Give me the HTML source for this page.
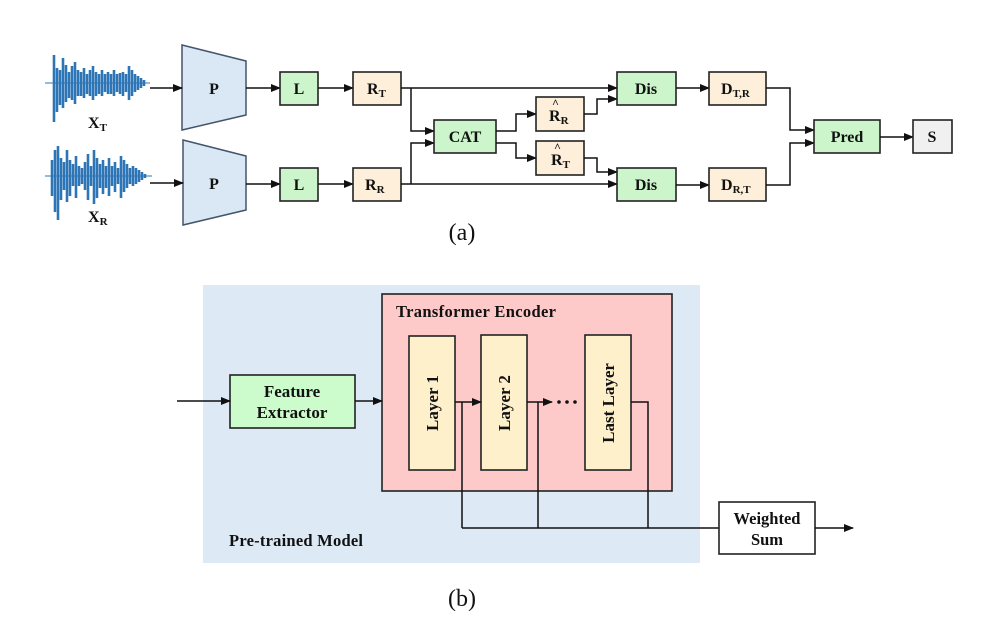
<!DOCTYPE html>
<html><head><meta charset="utf-8"><style>
html,body{margin:0;padding:0;background:#fff;}
svg{display:block;}
text{font-family:"Liberation Serif",serif;font-weight:bold;fill:#111;}
.b{stroke:#222;stroke-width:1.6;}
.l{stroke:#111;stroke-width:1.5;fill:none;}
</style></head><body>
<svg width="1004" height="634" viewBox="0 0 1004 634" xmlns="http://www.w3.org/2000/svg">
<defs><marker id="a" markerWidth="10" markerHeight="8" refX="9" refY="4" orient="auto" markerUnits="userSpaceOnUse"><path d="M0,0 L10,4 L0,8 z" fill="#111"/></marker></defs>

<!-- waveforms -->
<g stroke="#2e75b6" stroke-width="2.6">
<line x1="45" y1="83" x2="150" y2="83" stroke-width="1"/>
<path d="M44 55V122M47 68V112M50 70V105M53 58V108M56 65V102M59 72V98M62 66V100M65 62V104M68 70V96M71 72V96M74 68V98M77 74V94M80 70V96M83 66V100M86 72V96M89 74V94M92 70V96M95 74V92M98 72V94M101 74V94M104 70V96M107 74V92M110 73V94M113 72V96M116 74V92M119 66V100M122 70V96M125 74V92M128 76V90M131 78V88M134 80V86" transform="translate(10,0)"/>
<line x1="45" y1="176" x2="152" y2="176" stroke-width="1"/>
<path d="M52 160V196M55 150V212M58 146V220M61 158V200M64 162V190M67 150V202M70 160V196M73 164V186M76 156V198M79 166V186M82 168V184M85 162V190M88 154V200M91 166V186M94 150V204M97 158V198M100 164V188M103 160V194M106 166V188M109 158V196M112 166V186M115 162V192M118 168V184M121 156V198M124 160V192M127 164V188M130 168V184M133 166V186M136 168V184M139 170V182M142 172V180M145 174V178"/>
</g>
<text x="88" y="128" font-size="16">X<tspan font-size="11" dy="3">T</tspan></text>
<text x="88" y="222" font-size="16">X<tspan font-size="11" dy="3">R</tspan></text>

<!-- P trapezoids -->
<polygon points="182,45 246,61 246,115 182,130" fill="#dae8f5" stroke="#44546a" stroke-width="1.5"/>
<polygon points="183,140 246,156 246,210 183,225" fill="#dae8f5" stroke="#44546a" stroke-width="1.5"/>
<text x="214" y="94" font-size="16" text-anchor="middle">P</text>
<text x="214" y="189" font-size="16" text-anchor="middle">P</text>

<line class="l" x1="150" y1="88" x2="182" y2="88" marker-end="url(#a)"/>
<line class="l" x1="150" y1="183" x2="183" y2="183" marker-end="url(#a)"/>
<line class="l" x1="246" y1="88" x2="280" y2="88" marker-end="url(#a)"/>
<line class="l" x1="246" y1="184" x2="280" y2="184" marker-end="url(#a)"/>
<line class="l" x1="318" y1="88" x2="353" y2="88" marker-end="url(#a)"/>
<line class="l" x1="318" y1="184" x2="353" y2="184" marker-end="url(#a)"/>

<rect class="b" x="280" y="72" width="38" height="33" fill="#ccf5cc"/>
<rect class="b" x="280" y="168" width="38" height="33" fill="#ccf5cc"/>
<text x="299" y="94" font-size="16" text-anchor="middle">L</text>
<text x="299" y="190" font-size="16" text-anchor="middle">L</text>
<rect class="b" x="353" y="72" width="48" height="33" fill="#fdefd9"/>
<rect class="b" x="353" y="168" width="48" height="33" fill="#fdefd9"/>
<text x="367" y="94" font-size="16">R<tspan font-size="11" dy="3">T</tspan></text>
<text x="365" y="190" font-size="16">R<tspan font-size="11" dy="3">R</tspan></text>

<polyline class="l" points="401,88 617,88" marker-end="url(#a)"/>
<polyline class="l" points="401,184 617,184" marker-end="url(#a)"/>
<polyline class="l" points="411,88 411,131 434,131" marker-end="url(#a)"/>
<polyline class="l" points="411,184 411,143 434,143" marker-end="url(#a)"/>

<rect class="b" x="434" y="120" width="62" height="33" fill="#ccf5cc"/>
<text x="465" y="142" font-size="16" text-anchor="middle">CAT</text>

<polyline class="l" points="496,131 516,131 516,114 536,114" marker-end="url(#a)"/>
<polyline class="l" points="496,143 516,143 516,158 536,158" marker-end="url(#a)"/>

<rect class="b" x="536" y="97" width="48" height="34" fill="#fdefd9"/>
<rect class="b" x="536" y="141" width="48" height="34" fill="#fdefd9"/>
<text x="549" y="121" font-size="16">R<tspan font-size="11" dy="3">R</tspan></text>
<text x="552" y="107" font-size="12">^</text>
<text x="551" y="165" font-size="16">R<tspan font-size="11" dy="3">T</tspan></text>
<text x="554" y="151" font-size="12">^</text>

<polyline class="l" points="584,114 597,114 597,99 617,99" marker-end="url(#a)"/>
<polyline class="l" points="584,158 597,158 597,172 617,172" marker-end="url(#a)"/>

<rect class="b" x="617" y="72" width="59" height="33" fill="#ccf5cc"/>
<rect class="b" x="617" y="168" width="59" height="33" fill="#ccf5cc"/>
<text x="646" y="94" font-size="16" text-anchor="middle">Dis</text>
<text x="646" y="190" font-size="16" text-anchor="middle">Dis</text>

<line class="l" x1="676" y1="88" x2="709" y2="88" marker-end="url(#a)"/>
<line class="l" x1="676" y1="185" x2="709" y2="185" marker-end="url(#a)"/>

<rect class="b" x="709" y="72" width="57" height="33" fill="#fdefd9"/>
<rect class="b" x="709" y="168" width="57" height="33" fill="#fdefd9"/>
<text x="721" y="94" font-size="16">D<tspan font-size="11" dy="3">T,R</tspan></text>
<text x="721" y="190" font-size="16">D<tspan font-size="11" dy="3">R,T</tspan></text>

<polyline class="l" points="766,88 790,88 790,130 814,130" marker-end="url(#a)"/>
<polyline class="l" points="766,185 790,185 790,143 814,143" marker-end="url(#a)"/>

<rect class="b" x="814" y="120" width="66" height="33" fill="#ccf5cc"/>
<text x="847" y="142" font-size="16" text-anchor="middle">Pred</text>
<line class="l" x1="880" y1="137" x2="913" y2="137" marker-end="url(#a)"/>
<rect class="b" x="913" y="120" width="39" height="33" fill="#f0f0f0"/>
<text x="932" y="142" font-size="16" text-anchor="middle">S</text>

<text x="462" y="240" font-size="24" text-anchor="middle" style="font-weight:normal">(a)</text>

<!-- (b) -->
<rect x="203" y="285" width="497" height="278" fill="#dde9f5"/>
<rect x="382" y="294" width="290" height="197" fill="#fdc9c9" stroke="#222" stroke-width="1.6"/>
<text x="396" y="317" font-size="16.5" textLength="160">Transformer Encoder</text>

<rect class="b" x="230" y="375" width="125" height="53" fill="#ccfccc"/>
<text x="292" y="397" font-size="17" text-anchor="middle">Feature</text>
<text x="292" y="418" font-size="17" text-anchor="middle">Extractor</text>
<line class="l" x1="177" y1="401" x2="230" y2="401" marker-end="url(#a)"/>
<line class="l" x1="355" y1="401" x2="382" y2="401" marker-end="url(#a)"/>

<rect class="b" x="409" y="336" width="46" height="134" fill="#fff0cc"/>
<rect class="b" x="481" y="335" width="46" height="135" fill="#fff0cc"/>
<rect class="b" x="585" y="335" width="46" height="135" fill="#fff0cc"/>
<text transform="translate(438,403) rotate(-90)" font-size="17" text-anchor="middle">Layer 1</text>
<text transform="translate(510,403) rotate(-90)" font-size="17" text-anchor="middle">Layer 2</text>
<text transform="translate(614,403) rotate(-90)" font-size="17" text-anchor="middle">Last Layer</text>

<line class="l" x1="455" y1="402" x2="481" y2="402" marker-end="url(#a)"/>
<line class="l" x1="527" y1="402" x2="552" y2="402" marker-end="url(#a)"/>
<circle cx="559" cy="402" r="1.8" fill="#111"/>
<circle cx="567" cy="402" r="1.8" fill="#111"/>
<circle cx="575" cy="402" r="1.8" fill="#111"/>
<polyline class="l" points="631,402 648,402 648,528"/>
<line class="l" x1="462" y1="402" x2="462" y2="528"/>
<line class="l" x1="538" y1="402" x2="538" y2="528"/>
<line class="l" x1="462" y1="528" x2="719" y2="528"/>

<rect class="b" x="719" y="502" width="96" height="52" fill="#fff"/>
<text x="767" y="524" font-size="16.5" text-anchor="middle">Weighted</text>
<text x="767" y="545" font-size="16.5" text-anchor="middle">Sum</text>
<line class="l" x1="815" y1="528" x2="853" y2="528" marker-end="url(#a)"/>

<text x="229" y="546" font-size="16.5" textLength="134">Pre-trained Model</text>
<text x="462" y="606" font-size="24" text-anchor="middle" style="font-weight:normal">(b)</text>
</svg>
</body></html>
